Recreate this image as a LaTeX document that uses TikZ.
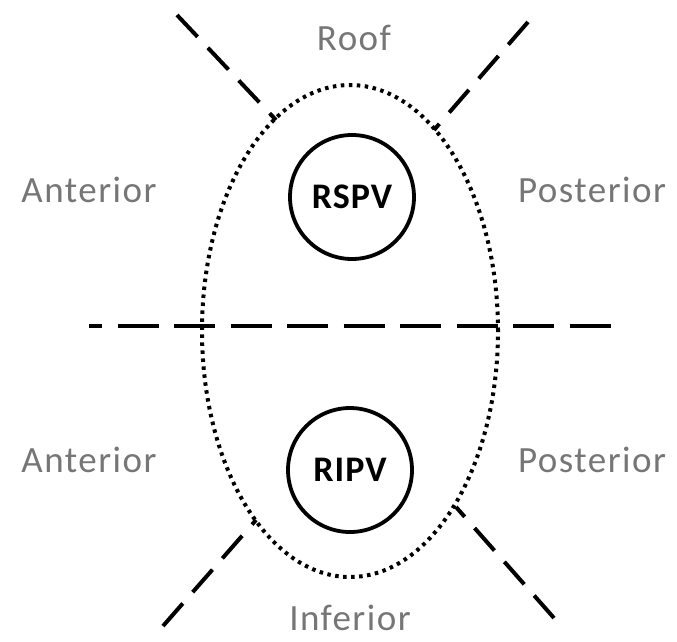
\documentclass[tikz,border=0pt]{standalone}
\usepackage{fontspec}
\setmainfont{Carlito}
\usetikzlibrary{shapes.geometric}
\definecolor{labelgray}{RGB}{118,118,118}
\tikzset{
  region/.style={font=\addfontfeature{LetterSpace=4}\fontsize{37}{40}\selectfont, text=labelgray, inner sep=0pt},
  vein/.style={circle, draw=black, line width=3.8pt, minimum size=124pt, inner sep=0pt,
    font=\bfseries\addfontfeature{LetterSpace=3}\fontsize{36}{40}\selectfont},
  atrium/.style={ellipse, draw=black, line width=4pt, dash pattern=on 3.5pt off 4.5pt,
    minimum width=296pt, minimum height=492pt, inner sep=0pt},
  divider/.style={draw=black, line width=4pt, dash pattern=on 30pt off 15pt},
  midline/.style={draw=black, line width=4pt, dash pattern=on 41pt off 15.5pt, dash phase=28pt}
}
\begin{document}
\begin{tikzpicture}[x=1pt,y=-1pt]
  \useasboundingbox (0,0) rectangle (677,641);
  \fill[white] (0,0) rectangle (677,641);

  % left atrial outline and the two pulmonary veins
  \node[atrium] (la) at (350,331) {};
  \node[vein] (rspv) at (352,197) {RSPV};
  \node[vein] (ripv) at (350,470) {RIPV};

  % end points of the dividing lines
  \coordinate (ulo) at (177,15);
  \coordinate (uli) at (276,120);
  \coordinate (uro) at (528,22);
  \coordinate (uri) at (434,130);
  \coordinate (llo) at (163,626);
  \coordinate (lli) at (256,520);
  \coordinate (lro) at (554,618);
  \coordinate (lri) at (456,507);
  \coordinate (hl) at (89,326);
  \coordinate (hr) at (613,326);

  \draw[divider] (ulo) -- (uli);
  \draw[divider] (uro) -- (uri);
  \draw[divider] (llo) -- (lli);
  \draw[divider] (lro) -- (lri);
  \draw[midline] (hl) -- (hr);

  % region labels
  \node[region] (roof) at (354,38) {Roof};
  \node[region] (antu) at (89,190) {Anterior};
  \node[region] (postu) at (592,190) {Posterior};
  \node[region] (antl) at (89,460) {Anterior};
  \node[region] (postl) at (592,460) {Posterior};
  \node[region] (inf) at (350,618) {Inferior};
\end{tikzpicture}
\end{document}
